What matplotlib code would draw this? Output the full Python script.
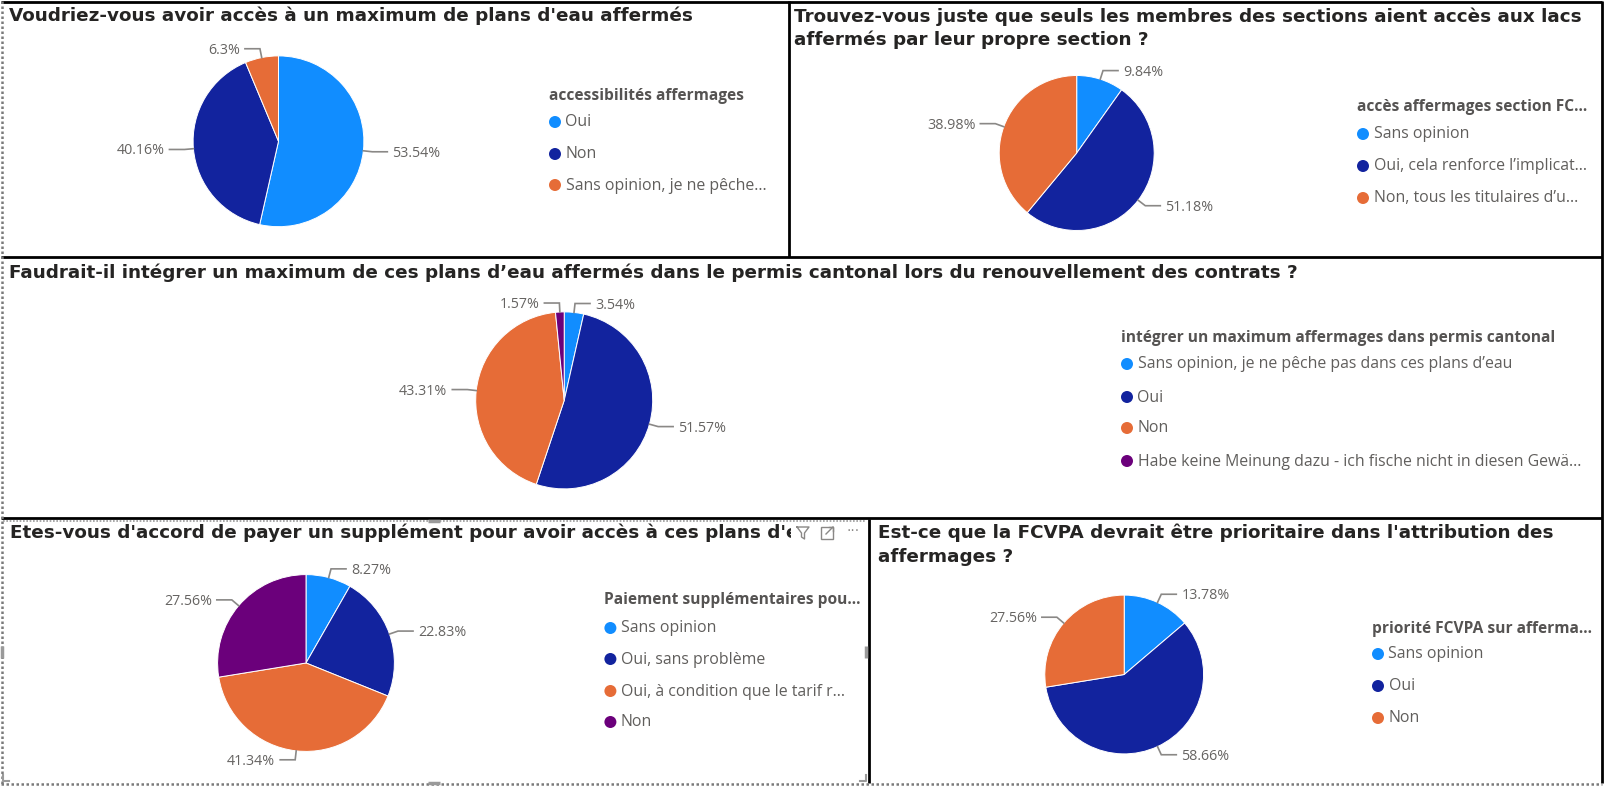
import numpy as np
import matplotlib
matplotlib.use("Agg")
import matplotlib.pyplot as plt
from matplotlib.patches import Circle, Rectangle
from matplotlib.transforms import Bbox

W, H = 1605, 786

BLUE = "#118DFF"
NAVY = "#12239E"
ORANGE = "#E66C37"
PURPLE = "#6B007B"

# ---------------- data ----------------
q1_title = ["Voudriez-vous avoir accès à un maximum de plans d'eau affermés"]
q1_legend_title = "accessibilités affermages"
q1_categories = ["Oui", "Non", "Sans opinion, je ne pêche..."]
q1_values = [53.54, 40.16, 6.3]
q1_colors = [BLUE, NAVY, ORANGE]

q2_title = ["Trouvez-vous juste que seuls les membres des sections aient accès aux lacs",
            "affermés par leur propre section ?"]
q2_legend_title = "accès affermages section FC..."
q2_categories = ["Sans opinion", "Oui, cela renforce l’implicat...", "Non, tous les titulaires d’u..."]
q2_values = [9.84, 51.18, 38.98]
q2_colors = [BLUE, NAVY, ORANGE]

q3_title = ["Faudrait-il intégrer un maximum de ces plans d’eau affermés dans le permis cantonal lors du renouvellement des contrats ?"]
q3_legend_title = "intégrer un maximum affermages dans permis cantonal"
q3_categories = ["Sans opinion, je ne pêche pas dans ces plans d’eau", "Oui", "Non",
                 "Habe keine Meinung dazu - ich fische nicht in diesen Gewä..."]
q3_values = [3.54, 51.57, 43.31, 1.57]
q3_colors = [BLUE, NAVY, ORANGE, PURPLE]

q4_title = ["Etes-vous d'accord de payer un supplément pour avoir accès à ces plans d'e"]
q4_legend_title = "Paiement supplémentaires pou..."
q4_categories = ["Sans opinion", "Oui, sans problème", "Oui, à condition que le tarif r...", "Non"]
q4_values = [8.27, 22.83, 41.34, 27.56]
q4_colors = [BLUE, NAVY, ORANGE, PURPLE]

q5_title = ["Est-ce que la FCVPA devrait être prioritaire dans l'attribution des",
            "affermages ?"]
q5_legend_title = "priorité FCVPA sur afferma..."
q5_categories = ["Sans opinion", "Oui", "Non"]
q5_values = [13.78, 58.66, 27.56]
q5_colors = [BLUE, NAVY, ORANGE]

# ---------------- layout (image pixel coords, y down) ----------------
panels = [
    dict(title=q1_title, ltitle=q1_legend_title, cats=q1_categories, vals=q1_values, cols=q1_colors,
         tx=9, ty=[15.5], pie=(278.5, 141.3, 85.4), leg=(549, 96, [122, 154, 185])),
    dict(title=q2_title, ltitle=q2_legend_title, cats=q2_categories, vals=q2_values, cols=q2_colors,
         tx=794, ty=[17, 39.5], pie=(1076.7, 153, 77.5), leg=(1357, 107, [134, 166, 198])),
    dict(title=q3_title, ltitle=q3_legend_title, cats=q3_categories, vals=q3_values, cols=q3_colors,
         tx=9, ty=[273], pie=(564.2, 400.4, 88.5), leg=(1121, 338, [364, 397, 428, 461])),
    dict(title=q4_title, ltitle=q4_legend_title, cats=q4_categories, vals=q4_values, cols=q4_colors,
         tx=10, ty=[533], pie=(306, 663, 88.4), leg=(604.4, 600, [628, 659, 691, 722]), clip=791),
    dict(title=q5_title, ltitle=q5_legend_title, cats=q5_categories, vals=q5_values, cols=q5_colors,
         tx=878, ty=[533, 557], pie=(1124.2, 674.5, 79.4), leg=(1372, 629, [654, 686, 718])),
]

TITLE_COLOR = "#252423"
LEG_TITLE_COLOR = "#555352"
LEG_COLOR = "#605E5C"
LABEL_COLOR = "#666462"
LINE_COLOR = "#8A8886"
SANS = ["Open Sans", "DejaVu Sans"]

fig = plt.figure(figsize=(W / 100, H / 100), dpi=100)
ax = fig.add_axes([0, 0, 1, 1])
ax.set_xlim(0, W)
ax.set_ylim(0, H)
ax.axis("off")
renderer = fig.canvas.get_renderer()


def Y(y):
    return H - y


def fit_size(text, family, weight, target, base=12.0):
    t = ax.text(0, 0, text, fontsize=base, family=family, weight=weight)
    w = t.get_window_extent(renderer).width
    t.remove()
    return base * target / w


TITLE_FS = fit_size(q2_title[0], ["DejaVu Sans"], "bold", 786)
LTITLE_FS = fit_size(q3_legend_title, SANS, "bold", 434)
LEG_FS = fit_size(q3_categories[0], SANS, "normal", 372)
LAB_FS = fit_size("43.31%", SANS, "normal", 48)

for p in panels:
    # title
    for line, ty in zip(p["title"], p["ty"]):
        t = ax.text(p["tx"], Y(ty), line, fontsize=TITLE_FS, family=["DejaVu Sans"], weight="bold",
                    color=TITLE_COLOR, ha="left", va="center")
        if "clip" in p:
            t.set_clip_on(True)
            t.set_clip_box(Bbox.from_extents(0, 0, p["clip"], H))

    # pie
    cx, cy, r = p["pie"]
    wedges, _ = ax.pie(p["vals"], colors=p["cols"], startangle=90, counterclock=False,
                       center=(cx, Y(cy)), radius=r, frame=True,
                       wedgeprops=dict(edgecolor="white", linewidth=0.7))
    for w, v in zip(wedges, p["vals"]):
        th = np.deg2rad((w.theta1 + w.theta2) / 2)
        c, s = np.cos(th), np.sin(th)
        px, py = cx + r * c, Y(cy) + r * s
        ex, ey = cx + (r + 9) * c, Y(cy) + (r + 9) * s
        side = 1 if c >= 0 else -1
        hx = ex + side * 15
        ax.plot([px, ex, hx], [py, ey, ey], color=LINE_COLOR, lw=1.2, solid_joinstyle="miter")
        ax.text(hx + side * 5, ey - 1.5, f"{v:g}%", fontsize=LAB_FS, family=SANS,
                color=LABEL_COLOR, ha="left" if side > 0 else "right", va="center")

    # legend
    lx, lty, items_y = p["leg"]
    ax.text(lx, Y(lty), p["ltitle"], fontsize=LTITLE_FS, family=SANS, weight="bold",
            color=LEG_TITLE_COLOR, ha="left", va="center")
    for cat, col, iy in zip(p["cats"], p["cols"], items_y):
        ax.add_patch(Circle((lx + 6, Y(iy)), 6, color=col, lw=0))
        ax.text(lx + 16.5, Y(iy) - 0.5, cat, fontsize=LEG_FS, family=SANS, color=LEG_COLOR,
                ha="left", va="center")

# ---------------- panel frames ----------------
K = dict(color="black", lw=2, solid_capstyle="butt")
ax.plot([1, 1602], [Y(1.5), Y(1.5)], **K)
ax.plot([1602, 1602], [Y(1), Y(783)], **K)
ax.plot([789, 789], [Y(1), Y(257)], **K)
ax.plot([1, 1602], [Y(257), Y(257)], **K)
ax.plot([1, 1602], [Y(518), Y(518)], **K)
ax.plot([869, 869], [Y(519), Y(783)], **K)
D = dict(color="#7a7a7a", lw=1.8, ls=(0, (1, 1)))
ax.plot([1.5, 1.5], [Y(1), Y(784)], **D)
ax.plot([1, 1602], [Y(784), Y(784)], **D)
ax.plot([3, 866], [Y(521), Y(521)], color="#9a9a9a", lw=1.2, ls=(0, (1, 1)))

# selection handles of the focused visual (panel 4)
HC = dict(color="#9a9a9a", lw=2.5, solid_capstyle="butt")
ax.plot([428, 440], [Y(521), Y(521)], **HC)
ax.plot([428, 440], [Y(783), Y(783)], **HC)
ax.plot([2, 2], [Y(646), Y(658)], **HC)
ax.plot([866, 866], [Y(646), Y(658)], **HC)
ax.plot([3, 3, 9], [Y(775), Y(781), Y(781)], color="#9a9a9a", lw=1.5)
ax.plot([860, 866, 866], [Y(781), Y(781), Y(775)], color="#9a9a9a", lw=1.5)

# visual header icons on panel 4
IC = "#8a8886"
ax.plot([797, 809, 804.5, 804.5, 801.5, 801.5, 797], [Y(527), Y(527), Y(533), Y(539), Y(537), Y(533), Y(527)],
        color=IC, lw=1)
ax.add_patch(Rectangle((821, Y(539)), 12, 12, fill=False, ec=IC, lw=1))
ax.plot([826, 833], [Y(534), Y(527)], color=IC, lw=1)
ax.plot([829, 833, 833], [Y(527), Y(527), Y(531)], color=IC, lw=1)
ax.text(853, Y(531), "···", fontsize=10, color=IC, ha="center", va="center", family=["DejaVu Sans"])

ax.set_xlim(0, W)
ax.set_ylim(0, H)
ax.set_aspect("auto")
ax.axis("off")

fig.savefig("out.png", dpi=100, facecolor="white")
